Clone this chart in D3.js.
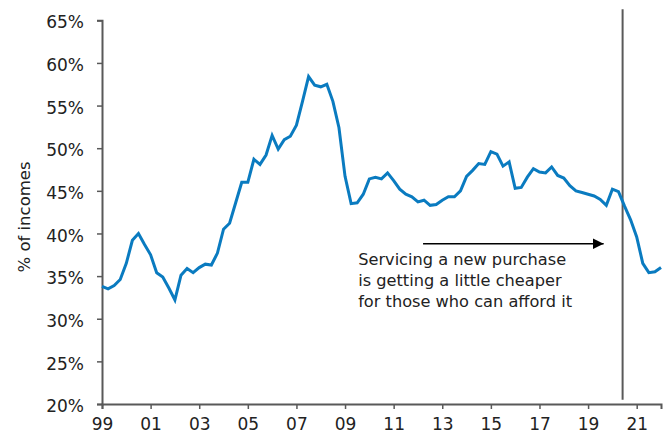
<!DOCTYPE html>
<html>
<head>
<meta charset="utf-8">
<script src="https://cdn.jsdelivr.net/npm/d3@7"></script>
<style>
  html, body { margin: 0; padding: 0; background: #fff; }
  svg { display: block; }
  text { font-family: "DejaVu Sans", Verdana, sans-serif; fill: #222; }
</style>
</head>
<body>
<svg id="chart" width="667" height="435"></svg>
<script>
// Mortgage servicing cost for a new purchase, % of incomes, quarterly from 1999 Q1
const startYear = 1999;
const servicingCost = [
  33.8, 33.5, 33.9, 34.6, 36.5, 39.2, 40.0, 38.7, 37.5, 35.4,
  34.9, 33.6, 32.2, 35.1, 35.9, 35.4, 36.0, 36.4, 36.3, 37.7,
  40.5, 41.2, 43.6, 46.0, 46.0, 48.7, 48.1, 49.2, 51.5, 49.9,
  51.0, 51.4, 52.7, 55.5, 58.4, 57.4, 57.2, 57.5, 55.5, 52.4,
  46.7, 43.5, 43.6, 44.6, 46.4, 46.6, 46.4, 47.1, 46.2, 45.2,
  44.6, 44.3, 43.7, 43.9, 43.3, 43.4, 43.9, 44.3, 44.3, 45.0,
  46.7, 47.4, 48.2, 48.1, 49.6, 49.3, 47.9, 48.4, 45.3, 45.4,
  46.6, 47.6, 47.2, 47.1, 47.8, 46.8, 46.5, 45.6, 45.0, 44.8,
  44.6, 44.4, 44.0, 43.3, 45.2, 44.9, 43.2, 41.6, 39.6, 36.5,
  35.4, 35.5, 36.0
];
const xTickYears = [1999, 2001, 2003, 2005, 2007, 2009, 2011, 2013, 2015, 2017, 2019, 2021];
const yTickValues = [20, 25, 30, 35, 40, 45, 50, 55, 60, 65];
const yAxisTitle = "% of incomes";
const noteLines = [
  "Servicing a new purchase",
  "is getting a little cheaper",
  "for those who can afford it"
];
const markerYear = 2020.42;
const arrowFrom = [2012.21, 38.8];
const arrowTo = [2019.64, 38.8];
const notePos = [2009.54, 36.3];

const series = servicingCost.map((v, i) => ({ t: startYear + i / 4, v }));

const svg = d3.select("#chart");
const margin = { left: 102, right: 6, top: 20.3, bottom: 31 };
const W = 667, H = 435;

const x = d3.scaleLinear().domain([1999, 2022]).range([margin.left, W - margin.right]);
const y = d3.scaleLinear().domain([20, 65]).range([H - margin.bottom, margin.top]);

const axisColor = "#595959";

// y axis
const yAxis = svg.append("g")
  .attr("transform", `translate(${margin.left},0)`)
  .call(d3.axisLeft(y).tickValues(yTickValues).tickFormat(d => d + "%").tickSize(5).tickPadding(13));
yAxis.select(".domain").attr("stroke", axisColor).attr("stroke-width", 2);
yAxis.selectAll(".tick line").attr("stroke", axisColor).attr("stroke-width", 1.5);
yAxis.selectAll(".tick text")
  .attr("font-family", "DejaVu Sans, Verdana, sans-serif")
  .attr("font-size", 17).attr("fill", "#222").attr("dy", "0.45em");

// x axis
const xAxis = svg.append("g")
  .attr("transform", `translate(0,${y(20)})`)
  .call(d3.axisBottom(x).tickValues(xTickYears)
    .tickFormat(d => String(d % 100).padStart(2, "0")).tickSize(5).tickPadding(9));
xAxis.select(".domain").attr("stroke", axisColor).attr("stroke-width", 2);
xAxis.selectAll(".tick line").attr("stroke", axisColor).attr("stroke-width", 1.5);
xAxis.selectAll(".tick text")
  .attr("font-family", "DejaVu Sans, Verdana, sans-serif")
  .attr("font-size", 17).attr("fill", "#222");

// y axis title
svg.append("text")
  .attr("transform", `translate(30,217) rotate(-90)`)
  .attr("text-anchor", "middle")
  .attr("font-size", 16.5)
  .text(yAxisTitle);

// vertical marker
svg.append("line")
  .attr("x1", x(markerYear)).attr("x2", x(markerYear))
  .attr("y1", y(66.3)).attr("y2", y(20.5))
  .attr("stroke", axisColor).attr("stroke-width", 2);

// series line
svg.append("path")
  .datum(series)
  .attr("fill", "none")
  .attr("stroke", "#0a7bc0")
  .attr("stroke-width", 3)
  .attr("stroke-linejoin", "miter")
  .attr("d", d3.line().x(d => x(d.t)).y(d => y(d.v)));

// arrow
svg.append("defs").append("marker")
  .attr("id", "arrowhead")
  .attr("viewBox", "0 0 10 10")
  .attr("refX", 10).attr("refY", 5)
  .attr("markerUnits", "userSpaceOnUse")
  .attr("markerWidth", 11).attr("markerHeight", 11)
  .attr("orient", "auto")
  .append("path").attr("d", "M0,0 L10,5 L0,10 Z").attr("fill", "#000");

svg.append("line")
  .attr("x1", x(arrowFrom[0])).attr("y1", y(arrowFrom[1]))
  .attr("x2", x(arrowTo[0])).attr("y2", y(arrowTo[1]))
  .attr("stroke", "#000").attr("stroke-width", 1.5)
  .attr("marker-end", "url(#arrowhead)");

// note
const note = svg.append("text")
  .attr("x", x(notePos[0])).attr("y", y(notePos[1]))
  .attr("font-size", 16.2);
noteLines.forEach((s, i) => {
  note.append("tspan").attr("x", x(notePos[0])).attr("dy", i === 0 ? 0 : 21).text(s);
});
</script>
</body>
</html>
